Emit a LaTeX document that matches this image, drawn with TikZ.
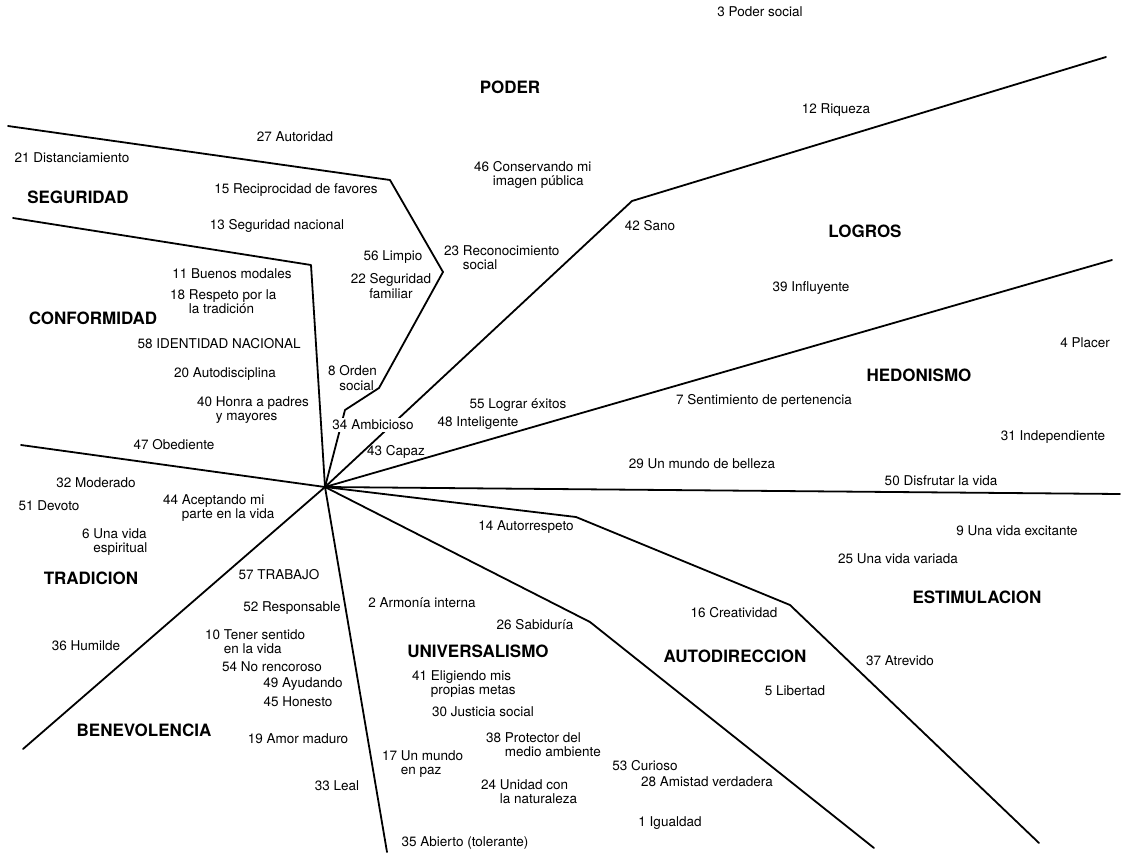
\documentclass[tikz,border=0pt]{standalone}
\usepackage{fontspec}
\setmainfont{TeX Gyre Heros}
\usetikzlibrary{positioning}

\begin{document}
\begin{tikzpicture}[x=1pt, y=-1pt,
  val/.style={font=\fontsize{13.5}{14.2}\selectfont, inner sep=0pt, align=left},
  grp/.style={font=\fontsize{17}{18}\selectfont\bfseries, inner sep=0pt},
  bnd/.style={draw=black, line width=1.8pt, line join=round, line cap=round}
]
\useasboundingbox (0,0) rectangle (1124,854);

\coordinate (o) at (325,487);
\coordinate (sp1) at (345,410);
\coordinate (sp2) at (379,388);
\coordinate (sp3) at (443,272);
\coordinate (sp4) at (390,180);
\coordinate (sp5) at (8,126);
\coordinate (sc1) at (311,265);
\coordinate (sc2) at (13,218);
\coordinate (ct) at (21,445);
\coordinate (tb) at (23,749);
\coordinate (bu) at (387,852);
\coordinate (ua1) at (590,622);
\coordinate (ua2) at (874,848);
\coordinate (ae1) at (576,517);
\coordinate (ae2) at (790,605);
\coordinate (ae3) at (1039,843);
\coordinate (eh) at (1120,494);
\coordinate (hl) at (1112,260);
\coordinate (lp1) at (632,201);
\coordinate (lp2) at (1106,57);

\draw[bnd] (o) -- (sp1) -- (sp2) -- (sp3) -- (sp4) -- (sp5);
\draw[bnd] (o) -- (sc1) -- (sc2);
\draw[bnd] (o) -- (ct);
\draw[bnd] (o) -- (tb);
\draw[bnd] (o) -- (bu);
\draw[bnd] (o) -- (ua1) -- (ua2);
\draw[bnd] (o) -- (ae1) -- (ae2) -- (ae3);
\draw[bnd] (o) -- (eh);
\draw[bnd] (o) -- (hl);
\draw[bnd] (o) -- (lp1) -- (lp2);

% regiones
\node[grp] (poder) at (510,87) {PODER};
\node[grp] (seguridad) at (78,197) {SEGURIDAD};
\node[grp] (logros) at (865,231) {LOGROS};
\node[grp] (conformidad) at (93,318) {CONFORMIDAD};
\node[grp] (hedonismo) at (919,375) {HEDONISMO};
\node[grp] (tradicion) at (91,578) {TRADICION};
\node[grp] (estimulacion) at (977,597) {ESTIMULACION};
\node[grp] (universalismo) at (478,651) {UNIVERSALISMO};
\node[grp] (autodireccion) at (735,656) {AUTODIRECCION};
\node[grp] (benevolencia) at (144,730) {BENEVOLENCIA};

% valores
\node[val] (v3) at (760,12) {3 Poder social};
\node[val] (v12) at (836,110) {12 Riqueza};
\node[val] (v27) at (295,137) {27 Autoridad};
\node[val] (v21) at (72,158) {21 Distanciamiento};
\node[val, anchor=west] (v46) at (474,175) {46 Conservando mi\\\phantom{46 }imagen pública};
\node[val] (v15) at (296,190) {15 Reciprocidad de favores};
\node[val] (v13) at (277,226) {13 Seguridad nacional};
\node[val] (v42) at (650,226) {42 Sano};
\node[val, anchor=west] (v23) at (444,258) {23 Reconocimiento\\\phantom{23 }social};
\node[val] (v56) at (393,257) {56 Limpio};
\node[val, align=center] (v22) at (391,286) {22 Seguridad\\familiar};
\node[val] (v11) at (232,274) {11 Buenos modales};
\node[val, anchor=west] (v18) at (170,302) {18 Respeto por la\\\phantom{18 }la tradición};
\node[val] (v39) at (811,288) {39 Influyente};
\node[val] (v4) at (1085,343) {4 Placer};
\node[val] (v58) at (219,344) {58 IDENTIDAD NACIONAL};
\node[val, anchor=west] (v8) at (328,378) {8 Orden\\\phantom{8 }social};
\node[val] (v20) at (225,374) {20 Autodisciplina};
\node[val, anchor=west] (v40) at (197,410) {40 Honra a padres\\\phantom{40 }y mayores};
\node[val] (v55) at (518,405) {55 Lograr éxitos};
\node[val] (v7) at (764,401) {7 Sentimiento de pertenencia};
\node[val, fill=white, inner sep=1.5pt] (v34) at (373,425) {34 Ambicioso};
\node[val] (v48) at (478,423) {48 Inteligente};
\node[val] (v47) at (174,445) {47 Obediente};
\node[val] (v31) at (1053,437) {31 Independiente};
\node[val] (v43) at (396,452) {43 Capaz};
\node[val] (v29) at (702,464) {29 Un mundo de belleza};
\node[val] (v50) at (941,481) {50 Disfrutar la vida};
\node[val] (v32) at (96,483) {32 Moderado};
\node[val] (v51) at (49,506) {51 Devoto};
\node[val, anchor=west] (v44) at (163,508) {44 Aceptando mi\\\phantom{44 }parte en la vida};
\node[val] (v14) at (526,527) {14 Autorrespeto};
\node[val] (v9) at (1017,531) {9 Una vida excitante};
\node[val, anchor=west] (v6) at (82,542) {6 Una vida\\\phantom{6 }espiritual};
\node[val] (v25) at (898,559) {25 Una vida variada};
\node[val] (v57) at (279,575) {57 TRABAJO};
\node[val] (v52) at (292,608) {52 Responsable};
\node[val] (v2) at (422,603) {2 Armonía interna};
\node[val] (v26) at (535,625) {26 Sabiduría};
\node[val] (v16) at (734,613) {16 Creatividad};
\node[val, anchor=west] (v10) at (205,642) {10 Tener sentido\\\phantom{10 }en la vida};
\node[val] (v36) at (86,646) {36 Humilde};
\node[val] (v37) at (900,661) {37 Atrevido};
\node[val] (v54) at (272,667) {54 No rencoroso};
\node[val] (v49) at (303,684) {49 Ayudando};
\node[val, anchor=west] (v41) at (412,684) {41 Eligiendo mis\\\phantom{41 }propias metas};
\node[val] (v5) at (795,691) {5 Libertad};
\node[val] (v45) at (298,702) {45 Honesto};
\node[val] (v30) at (483,712) {30 Justicia social};
\node[val] (v19) at (298,739) {19 Amor maduro};
\node[val, anchor=west] (v38) at (486,745) {38 Protector del\\\phantom{38 }medio ambiente};
\node[val, anchor=west] (v17) at (382,764) {17 Un mundo\\\phantom{17 }en paz};
\node[val] (v53) at (645,766) {53 Curioso};
\node[val] (v28) at (707,782) {28 Amistad verdadera};
\node[val] (v33) at (337,786) {33 Leal};
\node[val, anchor=west] (v24) at (481,792) {24 Unidad con\\\phantom{24 }la naturaleza};
\node[val] (v1) at (670,823) {1 Igualdad};
\node[val] (v35) at (465,843) {35 Abierto (tolerante)};

\end{tikzpicture}
\end{document}
